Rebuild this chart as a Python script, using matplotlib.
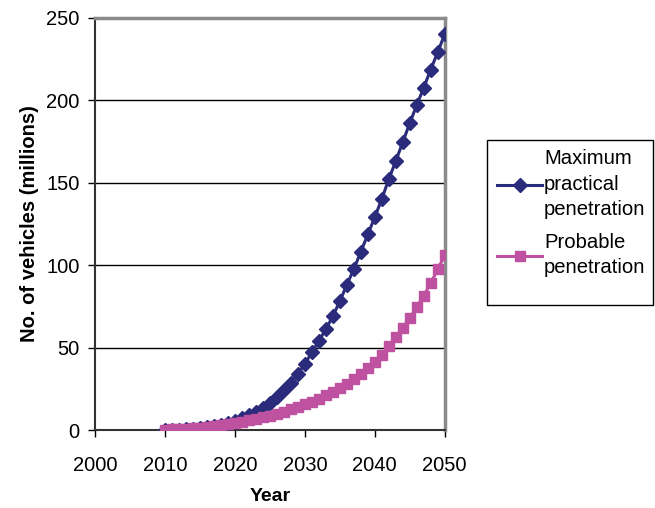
import matplotlib.pyplot as plt
from matplotlib.patches import Rectangle
import numpy as np

plt.rcParams.update({
    "font.family": ["Liberation Sans", "DejaVu Sans"],
    "font.size": 14,
})

C_MAX = "#2b2b7b"
C_PROB = "#bf52a0"

years = np.arange(2010, 2051)

max_practical = [
    0.1, 0.2, 0.3, 0.5, 0.8, 1.2, 1.7, 2.4, 3.2, 4.2,
    5.5, 7.0, 9.0, 11.0, 13.5, 16.5, 20.0, 24.0, 28.5, 34.0,
    40.0, 47.0, 54.0, 61.0, 69.0, 78.0, 88.0, 97.5, 108.0, 118.5,
    129.0, 140.0, 152.0, 163.0, 174.5, 186.0, 197.0, 207.5, 218.5, 229.0,
    240.0,
]

probable = [
    0.3, 0.4, 0.5, 0.7, 1.0, 1.3, 1.7, 2.2, 2.8, 3.5,
    4.2, 5.0, 5.8, 6.7, 7.7, 8.8, 10.0, 11.2, 12.6, 14.0,
    15.5, 17.2, 19.0, 21.0, 23.0, 25.5, 28.0, 31.0, 34.0, 37.5,
    41.0, 45.5, 50.8, 56.4, 62.0, 68.0, 74.5, 81.5, 89.0, 97.5,
    106.0,
]

fig = plt.figure(figsize=(6.55, 5.08), dpi=100)
ax = fig.add_axes([0.145, 0.1535, 0.534, 0.812])

ax.plot(years, max_practical, "D-", color=C_MAX, lw=2.2, ms=7.5,
        label="Maximum\npractical\npenetration", zorder=3)
ax.plot(years, probable, "s-", color=C_PROB, lw=2.2, ms=7,
        label="Probable\npenetration", zorder=4)

ax.set_xlim(2000, 2050)
ax.set_ylim(0, 250)
ax.set_xticks(np.arange(2000, 2051, 10))
ax.set_yticks(np.arange(0, 251, 50))
ax.yaxis.grid(True, color="black", lw=1.0)
ax.set_axisbelow(True)

for side in ("top", "right"):
    ax.spines[side].set_color("#8a8a8a")
    ax.spines[side].set_linewidth(2.5)
for side in ("left", "bottom"):
    ax.spines[side].set_color("#333333")
    ax.spines[side].set_linewidth(1.5)

ax.tick_params(axis="both", direction="out", length=5, width=1.0,
               labelsize=14.5, colors="black")
ax.tick_params(axis="y", pad=6)
ax.tick_params(axis="x", pad=14)

ax.set_xlabel("Year", fontsize=14, fontweight="bold", labelpad=9)
ax.set_ylabel("No. of vehicles (millions)", fontsize=14.5, fontweight="bold",
              labelpad=5)

# legend entries without a frame; the box is drawn separately so it can
# leave some empty room under the last entry
leg = fig.legend(loc="upper left", bbox_to_anchor=(0.744, 0.726),
                 fontsize=14.6, frameon=False,
                 handlelength=2.2, handletextpad=0.1,
                 borderpad=0.5, labelspacing=0.7, borderaxespad=0)
for t in leg.get_texts():
    t.set_linespacing(1.42)

fig.add_artist(Rectangle((0.7435, 0.3996), 0.2534, 0.3248,
                         transform=fig.transFigure, fill=False,
                         edgecolor="black", lw=1.0))

fig.savefig("out.png", dpi=100)
